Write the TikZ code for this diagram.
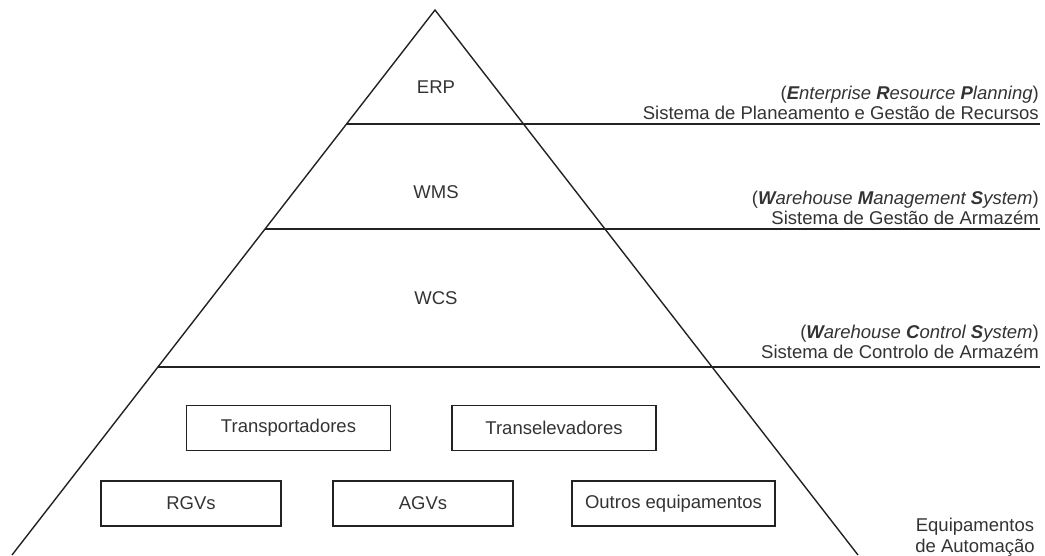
\documentclass[tikz,border=0pt]{standalone}
\usepackage{fontspec}
\setmainfont{Liberation Sans}
\usetikzlibrary{calc}
\definecolor{ink}{HTML}{222222}
\definecolor{txt}{HTML}{333333}
\begin{document}
\begin{tikzpicture}[x=1pt,y=-1pt,
  font=\fontsize{18.5}{20.5}\selectfont, text=txt,
  edge/.style={draw=ink,line width=1.4pt},
  level/.style={inner sep=0pt},
  note/.style={inner sep=0pt,align=right,anchor=east},
  device/.style={draw=ink,line width=1.4pt,rectangle,inner sep=0pt,
    minimum height=45pt}]
\useasboundingbox (0,0) rectangle (1045,555);

% pyramid
\coordinate (apex) at (435,10);
\coordinate (bl) at (12,555);
\coordinate (br) at (858,555);
\coordinate (rim) at (1040,0);
\draw[edge] (bl) -- (apex) -- (br);

% level separators, from the left side out to the right margin
\coordinate (s1) at ($(apex)!0.2092!(bl)$);
\coordinate (s2) at ($(apex)!0.4018!(bl)$);
\coordinate (s3) at ($(apex)!0.6550!(bl)$);
\draw[edge] (s1) -- (s1 -| rim);
\draw[edge] (s2) -- (s2 -| rim);
\draw[edge] (s3) -- (s3 -| rim);

% level names
\node[level] (erp) at (436,87) {ERP};
\node[level] (wms) at (436,192) {WMS};
\node[level] (wcs) at (436,298) {WCS};

% level descriptions
\node[note] (erpd) at (1039,103)
  {(\textit{\textbf{E}nterprise \textbf{R}esource \textbf{P}lanning})\\
   Sistema de Planeamento e Gestão de Recursos};
\node[note] (wmsd) at (1039,208)
  {(\textit{\textbf{W}arehouse \textbf{M}anagement \textbf{S}ystem})\\
   Sistema de Gestão de Armazém};
\node[note] (wcsd) at (1039,342)
  {(\textit{\textbf{W}arehouse \textbf{C}ontrol \textbf{S}ystem})\\
   Sistema de Controlo de Armazém};
\node[inner sep=0pt,align=center] (eqd) at (975,537)
  {Equipamentos\\de Automação};

% automation equipment
\node[device,minimum width=204pt] (tra) at (288.5,428) {Transportadores};
\node[device,minimum width=204pt] (tre) at (554,428) {Transelevadores};
\node[device,minimum width=180pt] (rgv) at (191,503.5) {RGVs};
\node[device,minimum width=180pt] (agv) at (423,503.5) {AGVs};
\node[device,minimum width=203pt] (oth) at (673.5,503.5) {Outros equipamentos};
\end{tikzpicture}
\end{document}
